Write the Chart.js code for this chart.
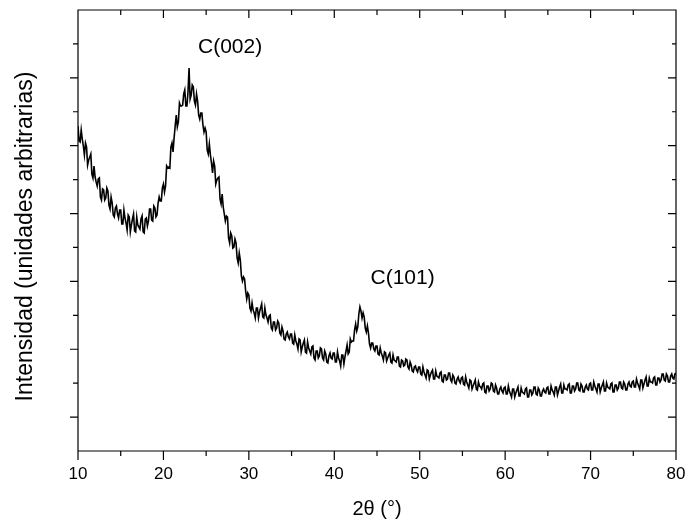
<!DOCTYPE html>
<html>
<head>
<meta charset="utf-8">
<script src="https://cdn.jsdelivr.net/npm/chart.js@4.4.1/dist/chart.umd.min.js"></script>
<style>html,body{margin:0;padding:0;background:#fff}canvas{display:block}</style>
</head>
<body>
<canvas id="c" width="689" height="527"></canvas>
<script>
// 2θ sampling of the pattern (degrees)
const twoThetaStart = 10;
const twoThetaStep = 0.25;
// Intensity (arbitrary units) at 10, 10.25, 10.5 ... 80°
const intensity = [
  975,927,936,888,912,873,891,819,822,795,819,753,783,759,780,726,744,702,735,699,
  723,681,699,663,702,678,711,657,678,666,705,654,699,690,726,690,729,708,762,750,
  801,795,849,849,924,939,1008,987,1035,1038,1083,1035,1149,1068,1092,1038,1050,996,1014,957,
  957,891,888,834,855,813,822,741,732,690,702,624,645,612,624,564,573,510,516,456,
  468,420,423,399,429,417,441,399,408,387,408,363,387,369,384,348,360,333,357,336,
  351,321,330,306,333,312,333,294,309,291,315,273,300,285,306,273,291,264,294,276,
  294,267,279,255,288,282,318,297,327,330,381,372,432,399,402,357,354,309,324,300,
  315,288,294,273,294,279,294,264,273,267,282,252,270,258,273,246,258,237,255,237,
  252,228,237,219,240,228,243,216,225,219,237,207,228,216,234,207,222,201,222,204,
  222,198,207,189,210,195,213,183,195,186,204,174,195,186,201,177,189,171,192,174,
  192,171,180,162,186,174,192,165,177,171,189,162,183,174,192,168,183,165,186,174,
  192,171,183,168,192,180,201,174,186,183,201,174,195,186,204,180,195,177,198,183,
  204,183,195,177,201,189,207,180,192,186,204,177,198,189,207,186,201,183,207,192,
  210,192,204,186,213,201,222,195,207,204,222,198,219,213,231,210,225,207,231,216,234
];
// Intensity read at the in-between angles 10.125, 10.375 ... 79.875°
const intensityMid = [
  930,963,915,924,858,882,831,855,807,816,762,786,753,789,738,762,708,729,711,723,
  681,723,684,708,657,696,660,702,672,696,657,696,675,726,693,735,702,744,750,789,
  777,855,852,912,897,975,972,1044,1035,1071,1035,1077,1056,1098,1050,1071,1008,1014,978,969,
  903,921,864,870,801,819,756,771,711,705,639,654,609,636,579,594,525,522,480,474,
  429,444,414,429,399,429,402,429,399,405,369,387,363,390,354,372,336,351,342,351,
  324,348,321,336,297,324,297,327,300,312,279,300,279,309,279,300,267,285,279,294,
  267,297,270,288,261,300,291,336,330,363,360,411,420,414,369,375,321,324,306,315,
  291,309,285,297,270,288,267,288,270,282,255,273,255,276,252,267,240,252,243,252,
  231,252,228,243,216,237,216,240,222,234,210,228,213,234,213,228,204,216,210,219,
  201,222,198,213,186,204,186,207,192,201,177,195,180,204,180,198,171,186,180,189,
  171,195,171,186,162,183,165,189,174,186,162,183,168,192,171,189,165,180,177,189,
  171,195,177,192,168,192,174,198,186,198,174,195,180,204,183,201,177,192,186,201,
  183,207,186,201,177,198,180,204,189,201,177,198,183,207,189,207,183,201,195,207,
  192,216,195,213,189,213,195,219,207,219,198,219,207,231,213,231,207,225,219,231
];
const xRange = [10, 80];
const yRange = [0, 1323];
const xMajorTicks = [10, 20, 30, 40, 50, 60, 70, 80];
const xMinorTicks = [15, 25, 35, 45, 55, 65, 75];
const yMajorTicks = [101.8, 305.3, 508.8, 712.4, 915.9, 1119.5];
const yMinorTicks = [203.5, 407.1, 610.6, 814.2, 1017.7, 1221.2];
const peakLabels = ['C(002)', 'C(101)'];
const peakLabelX = [27.8, 48.0];
const peakLabelY = [1212, 519];
const xTitle = '2\u03B8 (\u00B0)';
const yTitle = 'Intensidad (unidades arbitrarias)';

// interleave the two readings in order of angle
const points = [];
intensity.forEach((v, i) => {
  const x = twoThetaStart + i * twoThetaStep;
  points.push({ x: x, y: v });
  if (i < intensityMid.length) points.push({ x: x + twoThetaStep / 2, y: intensityMid[i] });
});
const FONT = '"Liberation Sans", Arial, sans-serif';

const framePlugin = {
  id: 'frame',
  afterDraw(chart) {
    const ctx = chart.ctx;
    const xs = chart.scales.x, ys = chart.scales.y;
    const { left, right, top, bottom } = chart.chartArea;
    ctx.save();
    ctx.strokeStyle = '#000';
    ctx.lineWidth = 1.2;
    ctx.beginPath();
    ctx.rect(left, top, right - left, bottom - top);
    const seg = (x1, y1, x2, y2) => { ctx.moveTo(x1, y1); ctx.lineTo(x2, y2); };
    xMajorTicks.forEach(v => { const p = xs.getPixelForValue(v); seg(p, bottom, p, bottom + 9); seg(p, top, p, top + 8); });
    xMinorTicks.forEach(v => { const p = xs.getPixelForValue(v); seg(p, bottom, p, bottom + 5); seg(p, top, p, top + 5); });
    yMajorTicks.forEach(v => { const p = ys.getPixelForValue(v); seg(left - 8, p, left, p); seg(right - 8, p, right, p); });
    yMinorTicks.forEach(v => { const p = ys.getPixelForValue(v); seg(left - 5, p, left, p); seg(right - 4, p, right, p); });
    ctx.stroke();
    ctx.fillStyle = '#000';
    ctx.textAlign = 'center';
    ctx.textBaseline = 'middle';
    ctx.font = '21px ' + FONT;
    peakLabels.forEach((t, i) => {
      ctx.fillText(t, xs.getPixelForValue(peakLabelX[i]), ys.getPixelForValue(peakLabelY[i]));
    });
    // y-axis title
    ctx.font = '23px ' + FONT;
    ctx.translate(26, (top + bottom) / 2 + 6);
    ctx.rotate(-Math.PI / 2);
    ctx.fillText(yTitle, 0, 0);
    ctx.restore();
  }
};

new Chart(document.getElementById('c'), {
  type: 'line',
  data: {
    datasets: [{
      data: points,
      borderColor: '#000',
      borderWidth: 1.6,
      pointRadius: 0,
      tension: 0,
      fill: false
    }]
  },
  options: {
    responsive: false,
    animation: false,
    events: [],
    layout: { padding: { left: 0, right: 13, top: 10, bottom: 0 } },
    plugins: { legend: { display: false }, tooltip: { enabled: false } },
    scales: {
      x: {
        type: 'linear',
        min: xRange[0], max: xRange[1],
        afterBuildTicks(s) { s.ticks = xMajorTicks.map(v => ({ value: v })); },
        afterFit(s) { s.height = 76; s.paddingLeft = 0; s.paddingRight = 0; },
        grid: { display: true, drawOnChartArea: false, drawTicks: false },
        border: { display: false },
        ticks: { color: '#000', font: { family: FONT, size: 17 }, padding: 13, maxRotation: 0 },
        title: { display: true, text: xTitle, color: '#000', font: { family: FONT, size: 20 }, padding: { top: 0, bottom: 6 } }
      },
      y: {
        min: yRange[0], max: yRange[1],
        afterFit(s) { s.width = 78; s.paddingTop = 0; s.paddingBottom = 0; },
        grid: { display: true, drawOnChartArea: false, drawTicks: false },
        border: { display: false },
        ticks: { display: false }
      }
    }
  },
  plugins: [framePlugin]
});
</script>
</body>
</html>
